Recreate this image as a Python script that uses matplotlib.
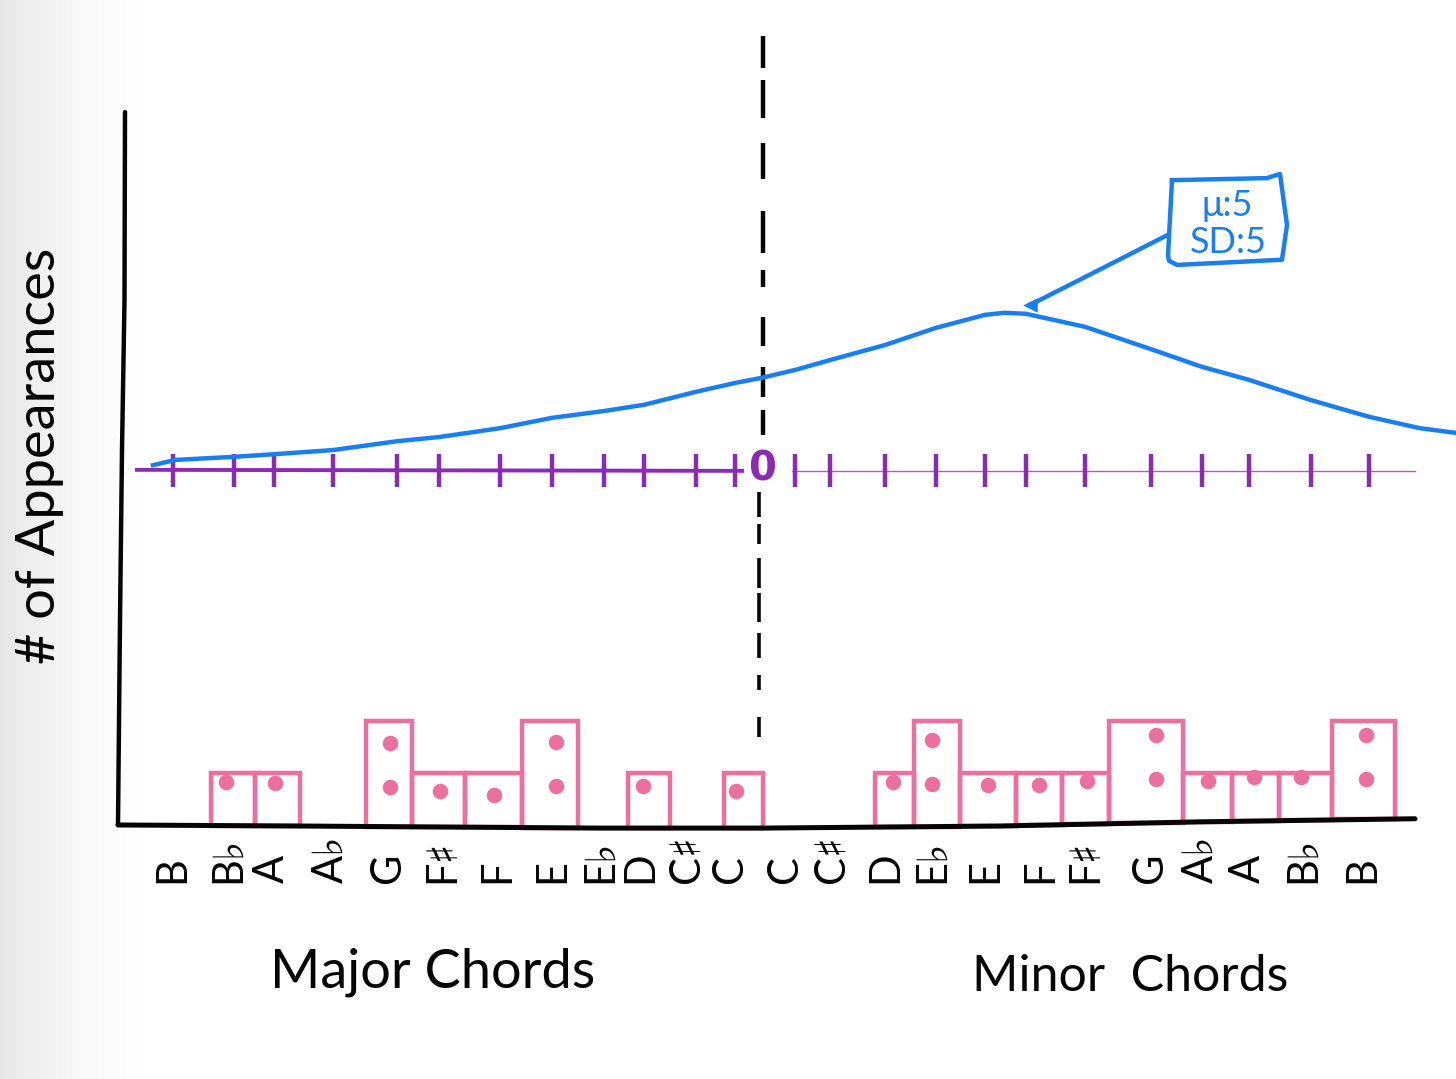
import numpy as np
import matplotlib
matplotlib.use("Agg")
import matplotlib.pyplot as plt

# x unit is one semitone away from the middle line, y unit is one appearance
major_chords = ["B", "B♭", "A", "A♭", "G", "F♯", "F", "E", "E♭", "D", "C♯", "C"]
major_label_x = [-11.8, -10.68, -9.8, -8.64, -7.48, -6.4, -5.3, -4.2, -3.24, -2.44, -1.5, -0.64]
minor_chords = ["C", "C♯", "D", "E♭", "E", "F", "F♯", "G", "A♭", "A", "B♭", "B"]
minor_label_x = [0.46, 1.4, 2.46, 3.4, 4.46, 5.56, 6.46, 7.76, 8.76, 9.72, 10.82, 12.0]

tick_x = [-11.78, -10.56, -9.76, -8.58, -7.3, -6.46, -5.24, -4.2, -3.16, -2.36, -1.32, -0.54,
          0.66, 1.36, 2.46, 3.48, 4.46, 5.28, 6.46, 7.78, 8.8, 9.74, 10.98, 12.14]

# only the chords that appear get a bar
bar_left = [-11.02, -10.14, -7.92, -7.0, -5.94, -4.8, -2.68, -0.76,
            2.26, 3.04, 3.96, 5.08, 6.0, 6.94, 8.42, 9.4, 10.34, 11.4]
bar_right = [-10.14, -9.24, -7.0, -5.94, -4.8, -3.68, -1.84, 0.02,
             3.04, 3.96, 5.08, 6.0, 6.94, 8.42, 9.4, 10.34, 11.4, 12.66]
bar_count = [1, 1, 2, 1, 1, 2, 1, 1,
             1, 2, 1, 1, 1, 2, 1, 1, 1, 2]
dot_x = [-10.72, -9.74, -7.44, -6.44, -5.36, -4.12, -2.38, -0.52,
         2.62, 3.4, 4.52, 5.54, 6.5, 7.88, 8.92, 9.84, 10.78, 12.08]
dot_y = [0.83, 0.81, 0.73, 0.65, 0.58, 0.75, 0.75, 0.65,
         0.83, 0.79, 0.77, 0.77, 0.85, 0.88, 0.85, 0.92, 0.92, 0.88]

curve_x = [-12.18, -11.74, -10.56, -9.76, -8.58, -7.3, -6.46, -5.24, -4.2, -3.16, -2.36, -1.32, -0.54, 0,
           0.66, 1.36, 2.46, 3.48, 4.46, 4.86, 5.28, 6.46, 7.78, 8.8, 9.74, 10.98, 12.14, 13.16, 13.88]
curve_y = [6.92, 7.02, 7.08, 7.13, 7.21, 7.38, 7.46, 7.63, 7.83, 7.96, 8.08, 8.33, 8.5, 8.6,
           8.75, 8.94, 9.23, 9.56, 9.81, 9.85, 9.83, 9.58, 9.15, 8.81, 8.56, 8.17, 7.85, 7.63, 7.54]

base_x = [-12.88, -9.24, -3.24, 0, 4.76, 8.76, 13.06]
base_y = [0, -0.02, -0.06, -0.06, -0.02, 0.06, 0.12]
axis_x = [-12.74, -12.75, -12.8, -12.84, -12.88]
axis_y = [13.71, 10.1, 7.21, 3.94, 0]

box_x = [8.2, 10.1, 10.36, 10.5, 10.4, 8.3, 8.14, 8.12, 8.2]
box_y = [12.4, 12.44, 12.52, 11.54, 10.87, 10.77, 10.85, 10.95, 12.4]
arrow_x = [8.12, 7.0, 5.36]
arrow_y = [11.35, 10.8, 10.0]

dash_start = [15.17, 14.33, 13.12, 11.81, 10.67, 9.77, 8.81, 7.98,
              6.4, 5.79, 5.13, 4.46, 3.69, 2.88, 2.08]
dash_end = [14.56, 13.6, 12.42, 11.0, 10.35, 9.21, 8.23, 7.5,
            5.92, 5.4, 4.56, 3.9, 3.21, 2.6, 1.69]

BLACK = "#050505"
PINK = "#ec709f"
BLUE = "#1a7fee"
PURPLE = "#8b2bb5"
LINE_Y = 6.83
HAND = ["Lato", "DejaVu Sans"]

plt.rcParams["font.family"] = ["DejaVu Sans"]

fig = plt.figure(figsize=(14.56, 10.79), dpi=100)
ax = fig.add_axes([0, 0, 1, 1])
ax.set_xlim(-15.24, 13.88)
ax.set_ylim(-4.885, 15.865)
ax.axis("off")

# page shadow along the left edge
shade = np.clip(1 - np.linspace(0, 1, 1456) / 0.12, 0, 1) ** 2
ax.imshow((1 - 0.10 * shade)[None, :], cmap="gray", vmin=0, vmax=1, aspect="auto",
          extent=(-15.24, 13.88, -4.885, 15.865), zorder=0)

# bars sit on the hand drawn baseline
bar_left = np.array(bar_left)
bar_right = np.array(bar_right)
bar_bottom = np.interp((bar_left + bar_right) / 2, base_x, base_y)
ax.bar(bar_left, np.array(bar_count) - bar_bottom, width=bar_right - bar_left, bottom=bar_bottom,
       align="edge", fill=False, edgecolor=PINK, linewidth=3.2, zorder=2)
for x, y, n in zip(dot_x, dot_y, bar_count):
    ax.scatter([x] * n, [y + 0.85 * k for k in range(n)], s=125, color=PINK, linewidths=0, zorder=3)

# sketched axes
ax.plot(axis_x, axis_y, color=BLACK, lw=3.2, solid_capstyle="round", zorder=4)
ax.plot(base_x, base_y, color=BLACK, lw=3.6, solid_capstyle="round", zorder=4)

# middle dashed line
ax.vlines([0.02] * 8, dash_start[:8], dash_end[:8], color=BLACK, lw=3.2, zorder=5)
ax.vlines([-0.05] * 7, dash_start[8:], dash_end[8:], color=BLACK, lw=2.6, zorder=5)

# number line, heavier on the left than on the right
ax.plot([-12.5, -0.4], [LINE_Y, LINE_Y - 0.02], color=PURPLE, lw=2.8, zorder=5)
ax.plot([0.6, 13.06], [LINE_Y - 0.03, LINE_Y - 0.03], color=PURPLE, lw=1.0, alpha=0.75, zorder=5)
ax.vlines(tick_x, LINE_Y - 0.33, LINE_Y + 0.3, color=PURPLE, lw=3.2, zorder=5)
ax.text(0, LINE_Y, "0", color=PURPLE, fontsize=29, fontweight="bold",
        ha="center", va="center", zorder=6,
        bbox=dict(facecolor="white", edgecolor="none", pad=1))

# distribution curve with its note
ax.plot(curve_x, curve_y, color=BLUE, lw=3.2, zorder=6)
ax.plot(box_x, box_y, color=BLUE, lw=3.2, solid_joinstyle="round", zorder=6)
ax.plot(arrow_x, arrow_y, color=BLUE, lw=3.2, zorder=6)
ax.scatter(arrow_x[-1], arrow_y[-1], s=110, marker="<", color=BLUE, linewidths=0, zorder=6)
ax.text(9.3, 11.92, "μ:5", color=BLUE, fontsize=26, ha="center", va="center", family=HAND)
ax.text(9.32, 11.2, "SD:5", color=BLUE, fontsize=26, ha="center", va="center", family=HAND)

# chord letters, accidentals run upward from the letter
for x, name in zip(major_label_x + minor_label_x, major_chords + minor_chords):
    ax.text(x, -1.12, name, color=BLACK, fontsize=30, rotation=90,
            ha="center", va="bottom", family=HAND)

ax.text(-6.58, -2.83, "Major Chords", color=BLACK, fontsize=39, ha="center", va="center", family=HAND)
ax.text(7.36, -2.92, "Minor  Chords", color=BLACK, fontsize=36, ha="center", va="center", family=HAND)
ax.text(-14.45, 7.1, "# of Appearances", color=BLACK, fontsize=39, rotation=90,
        ha="center", va="center", family=HAND)

fig.savefig("out.png", dpi=100)
